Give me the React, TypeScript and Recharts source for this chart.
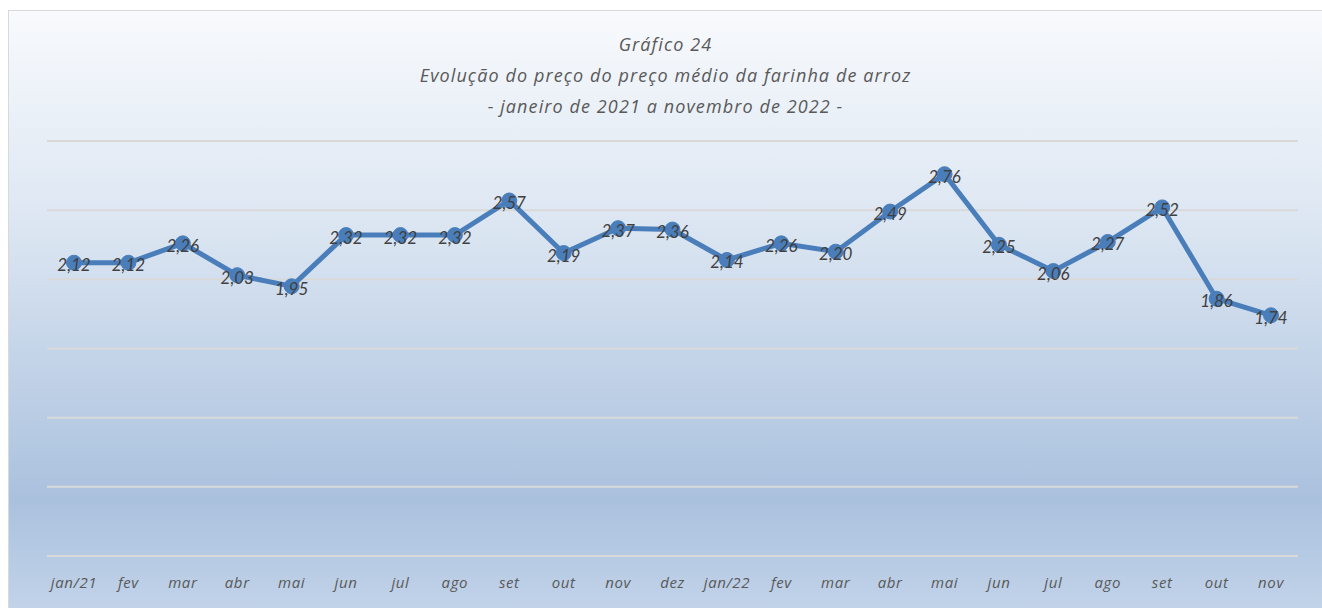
import React from "react";
import { LineChart, Line, XAxis, YAxis, CartesianGrid, LabelList } from "recharts";

const categories = ["jan/21", "fev", "mar", "abr", "mai", "jun", "jul", "ago", "set", "out", "nov", "dez", "jan/22", "fev", "mar", "abr", "mai", "jun", "jul", "ago", "set", "out", "nov"];
const prices = [2.12, 2.12, 2.26, 2.03, 1.95, 2.32, 2.32, 2.32, 2.57, 2.19, 2.37, 2.36, 2.14, 2.26, 2.2, 2.49, 2.76, 2.25, 2.06, 2.27, 2.52, 1.86, 1.74];
const yTicks = [0, 0.5, 1, 1.5, 2, 2.5, 3];
const titleLines = ["Gráfico 24", "Evolução do preço do preço médio da farinha de arroz", "- janeiro de 2021 a novembro de 2022 -"];

const data = categories.map((c, i) => ({ i, label: c, value: prices[i] }));

const LINE_COLOR = "#4a7ebb";
const labelFont = "Lato, 'Open Sans', sans-serif";
const titleFont = "'Open Sans', Lato, sans-serif";

const Tick = (props: any) => {
  const { x, y, payload } = props;
  return (
    <text x={x} y={y + 18} textAnchor="middle" dominantBaseline="central" fill="#595959" fontSize={15} letterSpacing={0.6} fontStyle="italic" fontFamily={titleFont}>
      {categories[payload.value]}
    </text>
  );
};

const ValueLabel = (props: any) => {
  const { x, y, value } = props;
  return (
    <text x={x} y={y + 2} textAnchor="middle" dominantBaseline="central" fill="#404040" fontSize={17} fontStyle="italic" fontFamily={labelFont}>
      {Number(value).toFixed(2).replace(".", ",")}
    </text>
  );
};

export default function App() {
  return (
    <div
      style={{
        position: "fixed",
        left: 8,
        top: 10,
        width: 1340,
        height: 610,
        border: "1px solid #d9d9d9",
        borderRight: "none",
        borderBottom: "none",
        background: "linear-gradient(to bottom, #f8fafd 0%, #dce6f2 35%, #aac1de 80%, #c4d5ea 100%)",
        overflow: "hidden",
      }}
    >
      <div style={{ position: "absolute", left: 0, top: 0, width: 1313, textAlign: "center", color: "#595959", fontFamily: titleFont, fontStyle: "italic", fontSize: 18, letterSpacing: 1.1 }}>
        {titleLines.map((t, k) => (
          <div key={k} style={{ position: "absolute", left: 0, width: 1313, top: 21 + k * 31, lineHeight: "24px" }}>
            {t}
          </div>
        ))}
      </div>
      <LineChart width={1313} height={597} data={data} margin={{ top: 130, right: 24, left: 38, bottom: 22 }}>
        <CartesianGrid vertical={false} stroke="#d9d9d9" strokeWidth={2} horizontalValues={yTicks} />
        <XAxis dataKey="i" type="category" axisLine={false} tickLine={false} height={30} tick={<Tick />} interval={0} padding={{ left: 27, right: 27 }} />
        <YAxis hide domain={[0, 3]} ticks={yTicks} />
        <Line
          type="linear"
          dataKey="value"
          stroke={LINE_COLOR}
          strokeWidth={5}
          dot={{ r: 7.5, fill: LINE_COLOR, stroke: LINE_COLOR, strokeWidth: 1 }}
          isAnimationActive={false}
        >
          <LabelList dataKey="value" content={<ValueLabel />} />
        </Line>
      </LineChart>
    </div>
  );
}
